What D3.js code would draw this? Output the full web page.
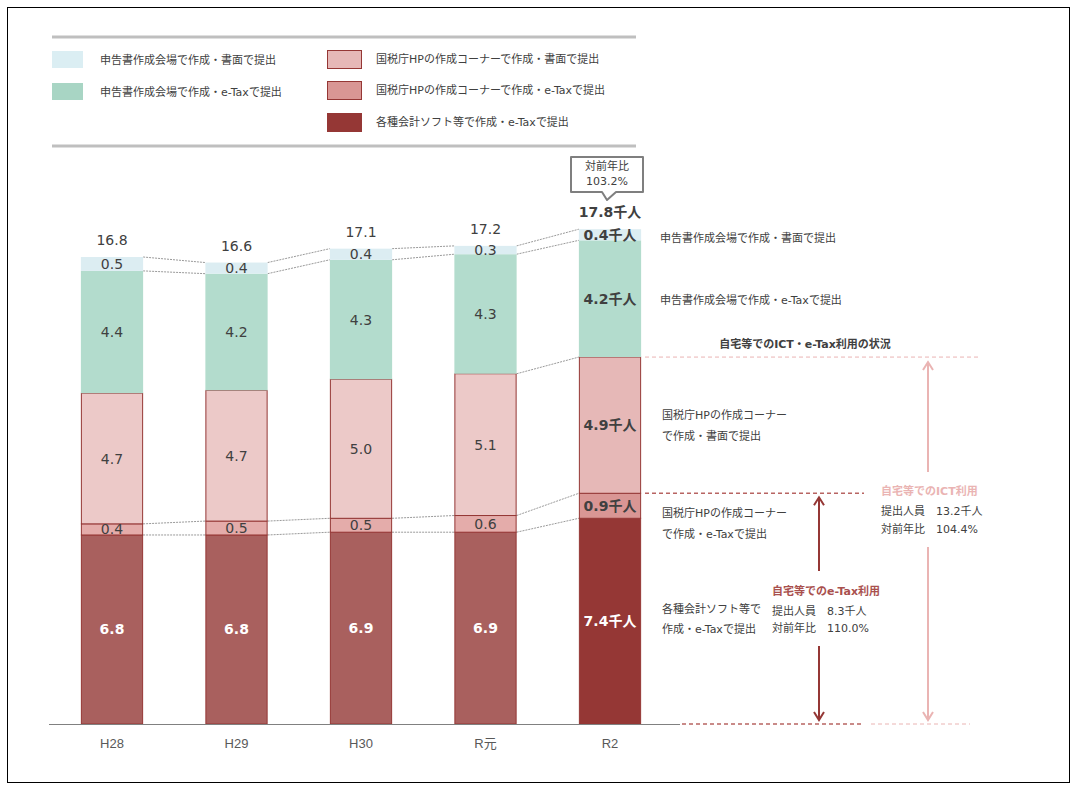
<!DOCTYPE html>
<html><head><meta charset="utf-8">
<script src="https://cdn.jsdelivr.net/npm/d3@7"></script>
<style>
body{margin:0;background:#fff;}
svg{font-family:"DejaVu Sans","Noto Sans CJK JP",sans-serif;}
</style></head><body>
<svg id="c" width="1079" height="789"></svg>
<script>
// ---- data ----
const years = ["H28","H29","H30","R元","R2"];
const softEtax = [6.8,6.8,6.9,6.9,7.4];      // 各種会計ソフト等で作成・e-Taxで提出
const hpEtax = [0.4,0.5,0.5,0.6,0.9];        // 国税庁HPの作成コーナーで作成・e-Taxで提出
const hpShomen = [4.7,4.7,5.0,5.1,4.9];      // 国税庁HPの作成コーナーで作成・書面で提出
const kaijoEtax = [4.4,4.2,4.3,4.3,4.2];     // 申告書作成会場で作成・e-Taxで提出
const kaijoShomen = [0.5,0.4,0.4,0.3,0.4];   // 申告書作成会場で作成・書面で提出
const totals = [16.8,16.6,17.1,17.2,17.8];
const seriesNames = ["各種会計ソフト等で作成・e-Taxで提出","国税庁HPの作成コーナーで作成・e-Taxで提出","国税庁HPの作成コーナーで作成・書面で提出","申告書作成会場で作成・e-Taxで提出","申告書作成会場で作成・書面で提出"];
const yoyTotal = "103.2%";
const ictPeople = "13.2千人", ictYoy = "104.4%";
const etaxPeople = "8.3千人", etaxYoy = "110.0%";

const svg = d3.select("#c");
const txt = "#404040";
// outer frame
svg.append("rect").attr("x",7.5).attr("y",7.5).attr("width",1062).attr("height",775)
  .attr("fill","none").attr("stroke","#000").attr("stroke-width",1);

const keys = ["softEtax","hpEtax","hpShomen","kaijoEtax","kaijoShomen"];
const rows = years.map((yr,i)=>({year:yr,softEtax:softEtax[i],hpEtax:hpEtax[i],hpShomen:hpShomen[i],kaijoEtax:kaijoEtax[i],kaijoShomen:kaijoShomen[i]}));
const stack = d3.stack().keys(keys)(rows);

const x = d3.scaleBand().domain(years).range([49.75,672.25]).paddingInner(0.5).paddingOuter(0.25);
const y = d3.scaleLinear().domain([0,17.8]).range([724,229.2]);
const bw = x.bandwidth();

const colPrev = {softEtax:"#a9605e",hpEtax:"#e4acaa",hpShomen:"#ecc9c8",kaijoEtax:"#b3dccd",kaijoShomen:"#dcedf2"};
const colLast = {softEtax:"#953735",hpEtax:"#d99694",hpShomen:"#e6b8b7",kaijoEtax:"#b3dccd",kaijoShomen:"#dcedf2"};
const bordered = {softEtax:true,hpEtax:true,hpShomen:true,kaijoEtax:false,kaijoShomen:false};

// connector lines
const g = svg.append("g");
for(let i=0;i<years.length-1;i++){
  const levels = [0,1,3,4];
  if(i===years.length-2) levels.push(2);
  levels.forEach(k=>{
    g.append("line")
      .attr("x1",x(years[i])+bw).attr("x2",x(years[i+1]))
      .attr("y1",y(stack[k][i][1])).attr("y2",y(stack[k][i+1][1]))
      .attr("stroke","#9a9a9a").attr("stroke-width",1).attr("stroke-dasharray","2,1");
  });
}

// bars
stack.forEach((s,si)=>{
  const key = s.key;
  g.selectAll(null).data(s).enter().append("rect")
    .attr("x",(d,i)=>x(years[i])+(bordered[key]?0.5:0))
    .attr("width",bordered[key]?bw-1:bw)
    .attr("y",d=>y(d[1]))
    .attr("height",d=>y(d[0])-y(d[1]))
    .attr("fill",(d,i)=>i===years.length-1?colLast[key]:colPrev[key])
    .attr("stroke",bordered[key]?"#953735":"none")
    .attr("stroke-width",1);
});
// value labels
stack.forEach((s,si)=>{
  const key = s.key;
  g.selectAll(null).data(s).enter().append("text")
    .attr("x",(d,i)=>x(years[i])+bw/2)
    .attr("y",d=>(y(d[0])+y(d[1]))/2+5)
    .attr("text-anchor","middle")
    .attr("font-size",14)
    .attr("font-weight",(d,i)=>(i===years.length-1||key==="softEtax")?"bold":"normal")
    .attr("fill",key==="softEtax"?"#fff":txt)
    .text((d,i)=>{const v=(d[1]-d[0]).toFixed(1);return i===years.length-1?v+"千人":v;});
});
// totals
g.selectAll(null).data(totals).enter().append("text")
  .attr("x",(d,i)=>x(years[i])+bw/2)
  .attr("y",(d,i)=>y(d)-12)
  .attr("text-anchor","middle").attr("font-size",14)
  .attr("font-weight",(d,i)=>i===years.length-1?"bold":"normal")
  .attr("fill",txt)
  .text((d,i)=>i===years.length-1?d.toFixed(1)+"千人":d.toFixed(1));

// axis
const ax = svg.append("g").attr("transform","translate(0,"+y(0)+")")
  .call(d3.axisBottom(x).tickSize(0).tickPadding(15));
ax.select(".domain").attr("d","M49,0.5H680").attr("stroke","#808080");
ax.selectAll("text").attr("font-size",13).attr("fill","#595959")
  .attr("font-family","Liberation Sans, Noto Sans CJK JP, sans-serif");

// callout box
const cx = x("R2")+bw/2;
const cb = svg.append("g");
cb.append("path")
  .attr("d",`M571,157 H643 V192 H${cx+6} L${cx-3},200 L${cx-8},192 H571 Z`)
  .attr("fill","#fff").attr("stroke","#7f7f7f").attr("stroke-width",2).attr("stroke-linejoin","round");
cb.append("text").attr("x",607).attr("y",170).attr("text-anchor","middle").attr("font-size",11).attr("fill",txt).text("対前年比");
cb.append("text").attr("x",607).attr("y",185).attr("text-anchor","middle").attr("font-size",11).attr("fill",txt).text(yoyTotal);

// right side labels
const rl = svg.append("g").attr("font-size",11).attr("fill",txt);
const last = years.length-1;
const mid = k => (y(stack[k][last][0])+y(stack[k][last][1]))/2;
rl.append("text").attr("x",660).attr("y",mid(4)+7).text(seriesNames[4]);
rl.append("text").attr("x",660).attr("y",mid(3)+5).text(seriesNames[3]);
rl.append("text").attr("x",805).attr("y",y(stack[2][last][1])-9).attr("text-anchor","middle").attr("font-weight","bold").text("自宅等でのICT・e-Tax利用の状況");
rl.append("text").attr("x",662).attr("y",419).text("国税庁HPの作成コーナー");
rl.append("text").attr("x",662).attr("y",440).text("で作成・書面で提出");
rl.append("text").attr("x",662).attr("y",517).text("国税庁HPの作成コーナー");
rl.append("text").attr("x",662).attr("y",538).text("で作成・e-Taxで提出");
rl.append("text").attr("x",662).attr("y",613).text("各種会計ソフト等で");
rl.append("text").attr("x",662).attr("y",633).text("作成・e-Taxで提出");

// dashed reference lines
const dark = "#a8403e", pink = "#eab4b3";
const yICT = y(stack[2][last][1]), yEtax = y(stack[1][last][1]), y0 = y(0);
svg.append("line").attr("x1",645).attr("x2",978).attr("y1",yICT).attr("y2",yICT).attr("stroke",pink).attr("stroke-width",1).attr("stroke-dasharray","4,3");
svg.append("line").attr("x1",645).attr("x2",864).attr("y1",yEtax).attr("y2",yEtax).attr("stroke","#b86462").attr("stroke-width",1.5).attr("stroke-dasharray","4,3");
svg.append("line").attr("x1",682).attr("x2",862).attr("y1",y0).attr("y2",y0).attr("stroke","#b86462").attr("stroke-width",1.5).attr("stroke-dasharray","4,3");
svg.append("line").attr("x1",871).attr("x2",970).attr("y1",y0).attr("y2",y0).attr("stroke",pink).attr("stroke-width",1).attr("stroke-dasharray","4,3");

// arrows
function arrowSeg(xp,y1,y2,color,headAtStart){
  svg.append("line").attr("x1",xp).attr("x2",xp).attr("y1",y1).attr("y2",y2).attr("stroke",color).attr("stroke-width",2);
  const hy = headAtStart?y1:y2, dir = headAtStart?1:-1;
  svg.append("path").attr("d",`M${xp-5},${hy+dir*8} L${xp},${hy} L${xp+5},${hy+dir*8}`)
    .attr("fill","none").attr("stroke",color).attr("stroke-width",2);
}
arrowSeg(819,yEtax+4,571,"#953735",true);
arrowSeg(819,646,y0-4,"#953735",false);
arrowSeg(928,yICT+5,472,pink,true);
arrowSeg(928,547,y0-4,pink,false);

// annotation texts
const an = svg.append("g").attr("font-size",11).attr("fill",txt);
an.append("text").attr("x",881).attr("y",495).attr("font-weight","bold").attr("fill",pink).text("自宅等でのICT利用");
an.append("text").attr("x",881).attr("y",515).text("提出人員　"+ictPeople);
an.append("text").attr("x",881).attr("y",533).text("対前年比　"+ictYoy);
an.append("text").attr("x",772).attr("y",595).attr("font-weight","bold").attr("fill","#a9504e").text("自宅等でのe-Tax利用");
an.append("text").attr("x",772).attr("y",615).text("提出人員　"+etaxPeople);
an.append("text").attr("x",772).attr("y",632).text("対前年比　"+etaxYoy);

// legend
const lg = svg.append("g");
lg.append("line").attr("x1",52).attr("x2",636).attr("y1",37).attr("y2",37).attr("stroke","#bfbfbf").attr("stroke-width",3);
lg.append("line").attr("x1",52).attr("x2",636).attr("y1",146).attr("y2",146).attr("stroke","#bfbfbf").attr("stroke-width",3);
const legItems = [
  {k:"kaijoShomen",x:52,y:51,w:31,h:17,tx:100,ty:64,fill:"#dbeef3",stroke:null},
  {k:"kaijoEtax",x:52,y:83,w:31,h:17,tx:100,ty:96,fill:"#a8d5c4",stroke:null},
  {k:"hpShomen",x:327.5,y:50.5,w:34,h:18,tx:376,ty:63,fill:"#e6b8b7",stroke:"#953735"},
  {k:"hpEtax",x:327.5,y:81.5,w:34,h:18,tx:376,ty:94,fill:"#d99694",stroke:"#953735"},
  {k:"softEtax",x:327,y:113,w:35,h:19,tx:376,ty:126,fill:"#953735",stroke:null}
];
legItems.forEach(d=>{
  lg.append("rect").attr("x",d.x).attr("y",d.y).attr("width",d.w).attr("height",d.h)
    .attr("fill",d.fill).attr("stroke",d.stroke||"none").attr("stroke-width",1);
  lg.append("text").attr("x",d.tx).attr("y",d.ty).attr("font-size",11).attr("fill",txt)
    .text(seriesNames[keys.indexOf(d.k)]);
});
</script></body></html>
